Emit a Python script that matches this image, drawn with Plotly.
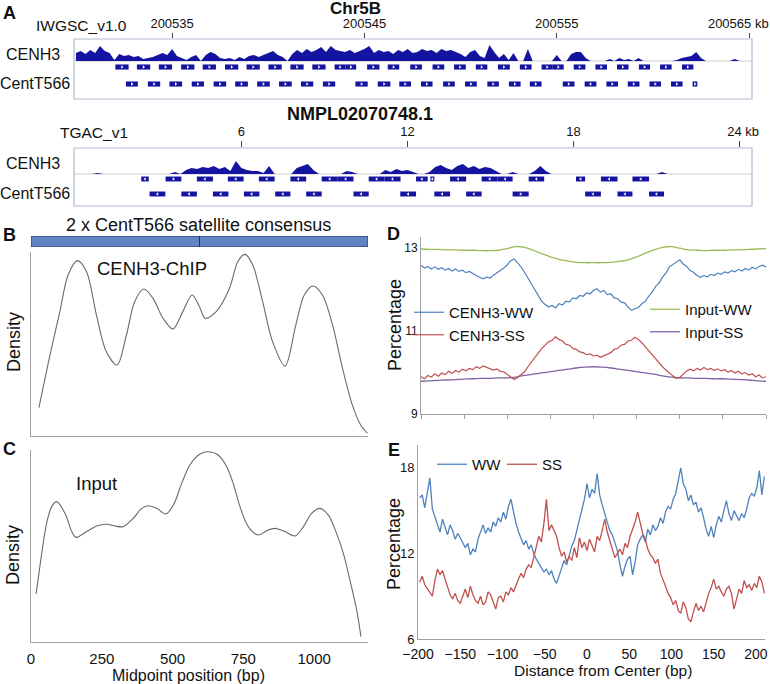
import plotly.graph_objects as go

W, H = 770, 684
FONT = "Liberation Sans, Arial, sans-serif"

# ---------------- DATA ----------------
# Panel A (top): Chr5B, IWGSC_v1.0, kb
chr5b_tick_vals = [200535, 200545, 200555, 200565]
chr5b_tick_text = ["200535", "200545", "200555", "200565 kb"]
chr5b_bin_start = 200530.0
chr5b_bin_kb = 0.25
chr5b_cenh3_cov = [8, 10, 7, 11, 8, 15, 10, 8, 1, 7,
                   5, 6, 4, 5, 2, 3, 4, 6, 8, 6,
                   12, 5, 3, 1, 4, 6, 0, 6, 9, 7,
                   3, 2, 3, 1, 4, 2, 5, 6, 4, 6,
                   8, 10, 6, 4, 0, 7, 11, 8, 12, 9,
                   11, 14, 9, 15, 11, 10, 9, 11, 8, 10,
                   12, 15, 8, 11, 9, 10, 7, 11, 9, 12,
                   8, 9, 12, 10, 11, 8, 12, 10, 11, 9,
                   7, 4, 9, 11, 5, 3, 16, 9, 3, 7,
                   1, 8, 0, 0, 12, 0, 0, 0, 0, 0,
                   6, 0, 0, 7, 9, 9, 3, 0, 0, 0,
                   0, 2, 0, 3, 1, 2, 0, 3, 0, 0,
                   0, 0, 0, 0, 0, 1, 3, 4, 5, 9,
                   3, 0, 0, 0, 0, 0, 0, 2, 0, 0,
                   0]
chr5b_feat_start = [200532.05, 200533.17, 200534.31, 200535.47, 200536.59, 200537.75, 200538.87,
                    200540.01, 200541.15, 200542.29, 200543.45, 200544.01, 200545.14, 200546.21,
                    200547.38, 200548.54, 200549.66, 200550.79, 200551.94, 200553.08, 200554.21,
                    200554.79, 200555.88, 200557.01, 200558.13, 200559.27, 200560.37, 200561.51,
                    200532.60, 200533.74, 200534.86, 200536.02, 200537.16, 200538.28, 200539.42,
                    200540.56, 200541.70, 200542.84, 200544.53, 200545.69, 200546.81, 200547.94,
                    200549.09, 200550.23, 200551.39, 200552.51, 200553.60, 200555.31, 200556.45,
                    200557.58, 200558.69, 200559.82, 200560.94, 200562.06]
chr5b_feat_end = [200532.74, 200533.86, 200535.00, 200536.16, 200537.28, 200538.44, 200539.56,
                  200540.70, 200541.84, 200542.98, 200544.01, 200544.57, 200545.78, 200546.81,
                  200547.99, 200549.15, 200550.27, 200551.39, 200552.56, 200553.69, 200554.79,
                  200555.36, 200556.49, 200557.61, 200558.73, 200559.85, 200560.97, 200562.10,
                  200533.22, 200534.38, 200535.52, 200536.66, 200537.81, 200538.94, 200540.08,
                  200541.22, 200542.34, 200543.48, 200545.17, 200546.35, 200547.42, 200548.54,
                  200549.70, 200550.84, 200551.99, 200553.12, 200554.21, 200555.92, 200557.06,
                  200558.18, 200559.30, 200560.42, 200561.54, 200562.31]
chr5b_feat_row = [1] * 28 + [2] * 26

# Panel A (bottom): NMPL02070748.1, TGAC_v1, kb
tgac_tick_vals = [6, 12, 18, 24]
tgac_tick_text = ["6", "12", "18", "24 kb"]
tgac_bin_kb = 0.2
tgac_cenh3_cov = [0, 0, 0, 0, 1, 0, 0, 0, 0, 0,
                  0, 0, 0, 0, 0, 0, 0, 0, 2, 0,
                  4, 6, 5, 7, 6, 8, 5, 7, 3, 13,
                  6, 4, 3, 3, 1, 8, 0, 0, 0, 0,
                  6, 8, 10, 4, 0, 0, 0, 0, 0, 3,
                  2, 0, 0, 0, 0, 0, 4, 2, 5, 3,
                  4, 2, 0, 0, 2, 7, 9, 6, 4, 8,
                  10, 6, 8, 5, 7, 6, 3, 0, 0, 2,
                  0, 0, 0, 3, 8, 3, 0, 0, 0, 0,
                  0, 0, 0, 0, 0, 0, 0, 0, 0, 0,
                  0, 0, 0, 0, 0, 0, 2, 0, 0, 0,
                  0, 0, 0, 0, 0, 0, 0, 0, 0, 0,
                  0, 0, 0]
tgac_feat_start = [2.38, 3.26, 4.39, 5.51, 6.63, 7.77, 8.90, 9.48, 10.60, 11.17, 12.31, 12.83,
                   13.54, 14.68, 15.26, 16.38, 18.09, 18.99, 20.13,
                   2.68, 3.83, 4.97, 6.09, 7.22, 8.34, 10.05, 11.74, 12.97, 14.12, 15.80,
                   18.42, 19.59, 20.73]
tgac_feat_end = [2.65, 3.83, 4.97, 6.08, 7.20, 8.34, 9.48, 10.05, 11.17, 11.75, 12.73, 12.97,
                 14.12, 15.26, 15.80, 16.94, 18.42, 19.59, 20.73,
                 3.25, 4.39, 5.53, 6.65, 7.77, 8.90, 10.60, 12.31, 13.54, 14.68, 16.38,
                 18.99, 20.13, 21.27]
tgac_feat_row = [1] * 19 + [2] * 14

# Panel B/C: consensus and midpoint densities (bp)
consensus_unit_bp = 566
consensus_copies = 2
chip_pos = [28, 67, 102, 131, 164, 196, 231, 266, 304, 337, 366, 398, 431, 466, 501, 536,
            569, 595, 615, 654, 701, 730, 756, 783, 818, 853, 897, 935, 965, 996, 1029,
            1065, 1100, 1135, 1164, 1188]
chip_density = [0.154, 0.440, 0.676, 0.875, 0.953, 0.893, 0.658, 0.458, 0.386, 0.549, 0.730,
                0.799, 0.748, 0.640, 0.582, 0.676, 0.766, 0.703, 0.640, 0.676, 0.803, 0.947,
                0.987, 0.929, 0.730, 0.513, 0.380, 0.603, 0.766, 0.815, 0.766, 0.603, 0.368,
                0.168, 0.060, 0.015]
input_pos = [18, 38, 55, 73, 91, 120, 144, 159, 197, 232, 267, 297, 326, 361, 391, 414, 444,
             476, 503, 532, 561, 597, 626, 661, 691, 714, 738, 767, 803, 832, 862, 897, 932,
             962, 991, 1020, 1050, 1079, 1103, 1126, 1150, 1165]
input_density = [0.250, 0.462, 0.618, 0.705, 0.731, 0.670, 0.575, 0.545, 0.575, 0.604, 0.613,
                 0.604, 0.601, 0.644, 0.696, 0.710, 0.696, 0.667, 0.714, 0.826, 0.922, 0.979,
                 0.991, 0.974, 0.913, 0.826, 0.705, 0.601, 0.557, 0.580, 0.592, 0.575, 0.552,
                 0.601, 0.670, 0.696, 0.661, 0.566, 0.462, 0.323, 0.167, 0.028]
c_tick_vals = [0, 250, 500, 750, 1000]

# Panel D: percentage vs distance (4 bp steps for CENH3, 10 bp for input)
d_dist = list(range(-200, 201, 4))
d_input_dist = list(range(-200, 201, 10))
cenh3_ww = [12.58, 12.52, 12.56, 12.50, 12.55, 12.49, 12.53, 12.47, 12.51, 12.45,
            12.50, 12.44, 12.47, 12.41, 12.44, 12.38, 12.34, 12.30, 12.26, 12.30,
            12.28, 12.35, 12.40, 12.46, 12.52, 12.60, 12.70, 12.74, 12.64, 12.55,
            12.42, 12.28, 12.12, 11.98, 11.84, 11.72, 11.64, 11.58, 11.62, 11.56,
            11.66, 11.63, 11.72, 11.70, 11.80, 11.78, 11.86, 11.84, 11.92, 11.90,
            11.98, 12.02, 11.94, 11.98, 11.88, 11.90, 11.80, 11.78, 11.70, 11.68,
            11.58, 11.50, 11.54, 11.57, 11.66, 11.72, 11.84, 11.94, 12.08, 12.16,
            12.30, 12.40, 12.55, 12.60, 12.66, 12.72, 12.62, 12.56, 12.46, 12.42,
            12.34, 12.30, 12.34, 12.31, 12.37, 12.34, 12.40, 12.37, 12.43, 12.40,
            12.46, 12.43, 12.49, 12.45, 12.51, 12.47, 12.54, 12.50, 12.56, 12.59,
            12.55]
cenh3_ss = [9.90, 9.85, 9.93, 9.89, 9.97, 9.91, 9.99, 9.95, 10.03, 9.98,
            10.05, 10.01, 10.08, 10.04, 10.10, 10.07, 10.14, 10.10, 10.16, 10.12,
            10.10, 10.06, 10.09, 10.03, 10.02, 9.95, 9.90, 9.83, 9.88, 9.94,
            10.02, 10.14, 10.25, 10.36, 10.48, 10.58, 10.66, 10.74, 10.78, 10.86,
            10.80, 10.76, 10.68, 10.66, 10.58, 10.56, 10.50, 10.48, 10.43, 10.45,
            10.40, 10.42, 10.37, 10.41, 10.45, 10.48, 10.56, 10.58, 10.66, 10.68,
            10.76, 10.78, 10.85, 10.80, 10.72, 10.62, 10.52, 10.42, 10.32, 10.22,
            10.14, 10.06, 9.98, 9.92, 9.86, 9.88, 9.96, 10.04, 10.08, 10.04,
            10.10, 10.06, 10.12, 10.07, 10.10, 10.05, 10.09, 10.04, 10.07, 10.01,
            10.05, 9.99, 10.03, 9.97, 10.00, 9.94, 9.97, 9.90, 9.94, 9.87,
            9.90]
input_ww = [12.98, 12.97, 12.97, 12.96, 12.96, 12.95, 12.95, 12.94, 12.94, 12.95,
            12.99, 13.04, 13.02, 12.95, 12.87, 12.79, 12.73, 12.69, 12.66, 12.65,
            12.65, 12.65, 12.66, 12.68, 12.72, 12.79, 12.88, 12.96, 13.02, 13.04,
            13.00, 12.96, 12.95, 12.94, 12.95, 12.95, 12.96, 12.96, 12.97, 12.98,
            12.99]
input_ss = [9.79, 9.80, 9.81, 9.82, 9.83, 9.84, 9.85, 9.86, 9.86, 9.87,
            9.87, 9.89, 9.93, 9.96, 9.99, 10.02, 10.05, 10.08, 10.11, 10.13,
            10.14, 10.13, 10.11, 10.08, 10.05, 10.02, 9.99, 9.96, 9.92, 9.89,
            9.87, 9.87, 9.86, 9.86, 9.85, 9.85, 9.84, 9.83, 9.82, 9.80,
            9.79]
d_tick_vals = [-200, -150, -100, -50, 0, 50, 100, 150, 200]
d_y_ticks = [9, 11, 13]

# Panel E: percentage vs distance (3 bp steps)
e_dist = list(range(-198, 211, 3))
e_ww = [15.9, 16.1, 15.2, 16.4, 17.3, 15.1, 14.6, 14.1, 13.5, 14.4,
        13.8, 13.3, 14.0, 13.6, 13.0, 13.4, 13.1, 12.8, 12.4, 12.7,
        11.9, 12.3, 12.1, 13.0, 13.5, 14.0, 13.4, 13.8, 13.5, 14.2,
        13.9, 14.5, 14.2, 14.9, 14.4, 15.3, 15.8, 14.9, 14.1, 13.5,
        13.0, 12.6, 12.9, 12.3, 12.6, 12.0, 11.6, 11.3, 11.1, 10.7,
        10.9, 10.5, 10.8, 10.2, 9.9, 10.4, 10.9, 11.5, 11.2, 11.9,
        12.5, 12.9, 13.6, 14.3, 15.2, 15.8, 16.9, 15.9, 16.5, 16.2,
        17.6, 16.1, 15.4, 14.8, 14.3, 13.6, 13.3, 12.7, 12.2, 11.2,
        10.4, 11.1, 11.6, 11.8, 10.5, 11.4, 12.6, 13.0, 13.3, 12.8,
        13.7, 13.3, 14.0, 13.6, 13.9, 14.5, 14.1, 14.9, 15.3, 15.1,
        15.8, 16.2, 17.2, 18.0, 16.9, 16.5, 15.7, 16.1, 15.4, 15.6,
        14.9, 15.2, 14.5, 13.7, 13.2, 13.9, 13.1, 14.0, 14.6, 14.2,
        15.0, 15.7, 14.8, 14.3, 15.0, 14.6, 14.3, 14.8, 14.5, 15.1,
        15.9, 16.2, 16.0, 16.6, 17.8, 16.1, 17.4]
e_ss = [10.0, 10.4, 9.8, 9.5, 9.2, 9.0, 10.1, 10.9, 10.5, 10.8,
        10.2, 9.6, 9.1, 8.8, 9.2, 8.7, 8.5, 9.0, 9.5, 8.9,
        9.7, 9.1, 8.7, 8.5, 9.0, 8.4, 8.6, 9.3, 9.1, 8.6,
        8.1, 8.9, 9.0, 8.6, 9.3, 9.1, 9.6, 9.3, 9.8, 10.2,
        10.6, 10.3, 10.9, 11.2, 11.0, 11.8, 12.6, 13.2, 12.8, 14.1,
        15.8, 13.6, 14.0, 13.6, 13.2, 12.4, 11.8, 12.1, 11.4, 11.8,
        11.5, 12.4, 11.7, 13.1, 12.4, 12.8, 12.2, 13.0, 12.6, 12.1,
        13.2, 12.9, 13.6, 14.4, 13.5, 12.9, 12.3, 11.7, 12.0, 12.3,
        11.9, 12.7, 12.4, 13.2, 13.7, 14.2, 14.9, 14.1, 13.4, 13.0,
        12.3, 11.9, 11.7, 11.3, 11.6, 10.6, 10.2, 9.7, 9.2, 8.9,
        8.4, 8.7, 8.0, 7.8, 8.6, 8.2, 7.4, 7.2, 7.9, 8.5,
        8.0, 8.3, 7.9, 8.6, 9.2, 9.6, 10.2, 9.5, 9.7, 9.3,
        9.0, 9.5, 9.7, 9.2, 8.1, 8.8, 9.5, 9.2, 10.1, 9.6,
        9.8, 9.4, 9.9, 9.6, 10.4, 10.0, 9.2]
e_x_ticks = [-200, -150, -100, -50, 0, 50, 100, 150, 200]
e_y_ticks = [6, 12, 18]

# ---------------- STYLE ----------------
NAVY = "#1414a0"
BLUE, RED, GREEN, PURPLE = "#4f81bd", "#c0504d", "#9bbb59", "#8064a2"
AXIS = "#a0a0a0"
NB = "\u00a0"


def xd(a, b):
    return [a / W, b / W]


def yd(top, bottom):
    return [1 - bottom / H, 1 - top / H]


fig = go.Figure()

# --- Panel A top ---
chr5b_bins = [chr5b_bin_start + chr5b_bin_kb * i for i in range(len(chr5b_cenh3_cov))]
fig.add_trace(go.Scatter(x=chr5b_bins, y=chr5b_cenh3_cov, mode="lines", fill="tozeroy",
                         line=dict(width=0, color=NAVY), fillcolor=NAVY,
                         xaxis="x", yaxis="y", showlegend=False, hoverinfo="skip"))
fig.add_trace(go.Bar(x=[e - s for s, e in zip(chr5b_feat_start, chr5b_feat_end)],
                     base=chr5b_feat_start, y=chr5b_feat_row, orientation="h", width=0.3,
                     marker=dict(color=NAVY, line=dict(width=0)),
                     xaxis="x", yaxis="y2", showlegend=False, hoverinfo="skip"))
fig.add_trace(go.Scatter(x=[(s + e) / 2 for s, e in zip(chr5b_feat_start, chr5b_feat_end)],
                         y=chr5b_feat_row, mode="markers",
                         marker=dict(symbol="triangle-right", size=3, color="white"),
                         xaxis="x", yaxis="y2", showlegend=False, hoverinfo="skip"))

# --- Panel A bottom ---
tgac_bins = [tgac_bin_kb * i for i in range(len(tgac_cenh3_cov))]
fig.add_trace(go.Scatter(x=tgac_bins, y=tgac_cenh3_cov, mode="lines", fill="tozeroy",
                         line=dict(width=0, color=NAVY), fillcolor=NAVY,
                         xaxis="x2", yaxis="y3", showlegend=False, hoverinfo="skip"))
fig.add_trace(go.Bar(x=[e - s for s, e in zip(tgac_feat_start, tgac_feat_end)],
                     base=tgac_feat_start, y=tgac_feat_row, orientation="h", width=0.33,
                     marker=dict(color=NAVY, line=dict(width=0)),
                     xaxis="x2", yaxis="y4", showlegend=False, hoverinfo="skip"))
fig.add_trace(go.Scatter(x=[(s + e) / 2 for s, e in zip(tgac_feat_start, tgac_feat_end)],
                         y=tgac_feat_row, mode="markers",
                         marker=dict(symbol="triangle-left", size=3, color="white"),
                         xaxis="x2", yaxis="y4", showlegend=False, hoverinfo="skip"))

# --- Consensus bar ---
fig.add_trace(go.Bar(x=[consensus_unit_bp] * consensus_copies,
                     base=[consensus_unit_bp * i for i in range(consensus_copies)],
                     y=[0] * consensus_copies, orientation="h", width=1,
                     marker=dict(color="#6283c2", line=dict(color="#22365f", width=1)),
                     xaxis="x3", yaxis="y5", showlegend=False, hoverinfo="skip"))

# --- Panel B / C ---
fig.add_trace(go.Scatter(x=chip_pos, y=chip_density, mode="lines",
                         line=dict(color="#6a6a6a", width=1.1, shape="spline", smoothing=0.9),
                         xaxis="x4", yaxis="y6", showlegend=False, hoverinfo="skip"))
fig.add_trace(go.Scatter(x=input_pos, y=input_density, mode="lines",
                         line=dict(color="#6a6a6a", width=1.1, shape="spline", smoothing=0.9),
                         xaxis="x5", yaxis="y7", showlegend=False, hoverinfo="skip"))

# --- Panel D ---
fig.add_trace(go.Scatter(x=d_input_dist, y=input_ww, mode="lines", name="Input-WW",
                         line=dict(color=GREEN, width=1.3, shape="spline"),
                         xaxis="x6", yaxis="y8", legend="legend2"))
fig.add_trace(go.Scatter(x=d_input_dist, y=input_ss, mode="lines", name="Input-SS",
                         line=dict(color=PURPLE, width=1.3, shape="spline"),
                         xaxis="x6", yaxis="y8", legend="legend2"))
fig.add_trace(go.Scatter(x=d_dist, y=cenh3_ww, mode="lines", name="CENH3-WW",
                         line=dict(color=BLUE, width=1.2), xaxis="x6", yaxis="y8", legend="legend"))
fig.add_trace(go.Scatter(x=d_dist, y=cenh3_ss, mode="lines", name="CENH3-SS",
                         line=dict(color=RED, width=1.2), xaxis="x6", yaxis="y8", legend="legend"))

# --- Panel E ---
fig.add_trace(go.Scatter(x=e_dist, y=e_ww, mode="lines", name="WW",
                         line=dict(color=BLUE, width=1.3), xaxis="x7", yaxis="y9", legend="legend3"))
fig.add_trace(go.Scatter(x=e_dist, y=e_ss, mode="lines", name="SS",
                         line=dict(color=RED, width=1.3), xaxis="x7", yaxis="y9", legend="legend3"))

base_ax = dict(showgrid=False, zeroline=False, fixedrange=True, automargin=False,
               ticklabeloverflow="allow")
hidden = dict(visible=False, showgrid=False, zeroline=False, fixedrange=True, automargin=False)

chr5b_ticktext = chr5b_tick_text[:-1] + [chr5b_tick_text[-1] + NB * 6]
tgac_ticktext = tgac_tick_text[:-1] + [NB * 2 + tgac_tick_text[-1]]

fig.update_layout(
    width=W, height=H, margin=dict(l=0, r=0, t=0, b=0, pad=0, autoexpand=False),
    paper_bgcolor="white", plot_bgcolor="rgba(0,0,0,0)",
    font=dict(family=FONT, color="#111"),
    barmode="overlay",
    xaxis=dict(base_ax, domain=xd(74, 752), range=[200529.9, 200565.15], anchor="y", side="top",
               tickmode="array", tickvals=chr5b_tick_vals, ticktext=chr5b_ticktext,
               ticks="outside", ticklen=5, tickcolor="#444", tickfont=dict(size=13), showline=False),
    yaxis=dict(hidden, domain=yd(39, 61), range=[0, 22], anchor="x"),
    yaxis2=dict(hidden, domain=yd(61, 99), range=[2.88, 0.647], anchor="x"),
    xaxis2=dict(base_ax, domain=xd(74, 752), range=[-0.05, 24.45], anchor="y3", side="top",
                tickmode="array", tickvals=tgac_tick_vals, ticktext=tgac_ticktext,
                ticks="outside", ticklen=6, tickcolor="#444", tickfont=dict(size=13), showline=False),
    yaxis3=dict(hidden, domain=yd(148, 174), range=[0, 26], anchor="x2"),
    yaxis4=dict(hidden, domain=yd(174, 206), range=[2.80, 0.667], anchor="x2"),
    xaxis3=dict(hidden, domain=xd(31, 368), range=[0, consensus_unit_bp * consensus_copies], anchor="y5"),
    yaxis5=dict(hidden, domain=yd(236, 247), range=[-0.5, 0.5], anchor="x3"),
    xaxis4=dict(base_ax, domain=xd(31, 368), range=[0, 1190], anchor="y6", showline=True,
                linecolor=AXIS, linewidth=1, showticklabels=False, ticks=""),
    yaxis6=dict(base_ax, domain=yd(252, 436), range=[0, 1.0], anchor="x4", showline=True,
                linecolor=AXIS, linewidth=1, showticklabels=False, ticks=""),
    xaxis5=dict(base_ax, domain=xd(31, 368), range=[0, 1190], anchor="y7", showline=True,
                linecolor=AXIS, linewidth=1, tickvals=c_tick_vals, ticks="",
                tickfont=dict(size=15), ticklabelstandoff=3),
    yaxis7=dict(base_ax, domain=yd(450, 642), range=[0, 1.0], anchor="x5", showline=True,
                linecolor=AXIS, linewidth=1, showticklabels=False, ticks=""),
    xaxis6=dict(base_ax, domain=xd(421, 766), range=[-200, 200], anchor="y8", showline=True,
                linecolor=AXIS, linewidth=1, tickvals=d_tick_vals, ticks="outside", ticklen=4,
                tickcolor=AXIS, showticklabels=False),
    yaxis8=dict(base_ax, domain=yd(237, 414), range=[9, 13.27], anchor="x6", showline=True,
                linecolor=AXIS, linewidth=1, tickvals=d_y_ticks, ticks="",
                tickfont=dict(size=12)),
    xaxis7=dict(base_ax, domain=xd(418, 765), range=[-200, 210.7], anchor="y9", showline=True,
                linecolor=AXIS, linewidth=1, tickvals=e_x_ticks, ticks="",
                tickfont=dict(size=14), ticklabelstandoff=2),
    yaxis9=dict(base_ax, domain=yd(445, 639), range=[6, 19.6], anchor="x7", showline=True,
                linecolor=AXIS, linewidth=1, tickvals=e_y_ticks, ticks="",
                tickfont=dict(size=13)),
    legend=dict(x=409 / W, y=1 - 296 / H, xanchor="left", yanchor="top", bgcolor="rgba(0,0,0,0)",
                font=dict(size=15), itemwidth=30, tracegroupgap=0),
    legend2=dict(x=645 / W, y=1 - 293 / H, xanchor="left", yanchor="top", bgcolor="rgba(0,0,0,0)",
                 font=dict(size=15), itemwidth=30, tracegroupgap=0),
    legend3=dict(x=432 / W, y=1 - 448 / H, xanchor="left", yanchor="top", orientation="h",
                 bgcolor="rgba(0,0,0,0)", font=dict(size=15), itemwidth=30,
                 entrywidth=25, entrywidthmode="pixels"),
)

# browser boxes and track separators (decoration)
shapes = []
for top, bottom, sep in [(39, 99, 61), (148, 206, 174)]:
    shapes.append(dict(type="rect", xref="paper", yref="paper", x0=74 / W, x1=752 / W,
                       y0=1 - bottom / H, y1=1 - top / H, line=dict(color="#aebbd3", width=1.2),
                       layer="below"))
    shapes.append(dict(type="line", xref="paper", yref="paper", x0=74 / W, x1=752 / W,
                       y0=1 - sep / H, y1=1 - sep / H, line=dict(color="#cccccc", width=1),
                       layer="below"))
fig.update_layout(shapes=shapes)


def ann(text, x, y, size, bold=False, angle=0):
    return dict(text=f"<b>{text}</b>" if bold else text, x=x / W, y=1 - y / H,
                xref="paper", yref="paper", xanchor="center", yanchor="middle",
                showarrow=False, textangle=angle, font=dict(size=size, family=FONT, color="#111"))


annotations = [
    ann("A", 9, 13, 18, True),
    ann("Chr5B", 355, 8, 17, True),
    ann("IWGSC_v1.0", 81, 25, 15.5),
    ann("CENH3", 33, 55, 16),
    ann("CentT566", 35, 83, 16),
    ann("NMPL02070748.1", 360, 114, 18, True),
    ann("TGAC_v1", 94, 133, 15.5),
    ann("CENH3", 33, 163, 16),
    ann("CentT566", 35, 193, 16),
    ann("B", 9, 235, 18, True),
    ann("2 x CentT566 satellite consensus", 199, 225, 18),
    ann("CENH3-ChIP", 152, 268, 18.5),
    ann("Density", 14, 342, 18, angle=-90),
    ann("C", 9, 449, 18, True),
    ann("Input", 96, 483, 18.5),
    ann("Density", 13, 555, 18, angle=-90),
    ann("Midpoint position (bp)", 188, 675, 16),
    ann("D", 394, 234, 18, True),
    ann("Percentage", 395, 325, 18, angle=-90),
    ann("E", 394, 450, 18, True),
    ann("Percentage", 394, 544, 18, angle=-90),
    ann("Distance from Center (bp)", 603, 670, 15.5),
]
fig.update_layout(annotations=annotations)

fig.write_html("out.html", config={"displayModeBar": False},
               post_script="document.body.style.margin='0';document.body.style.padding='0';")
